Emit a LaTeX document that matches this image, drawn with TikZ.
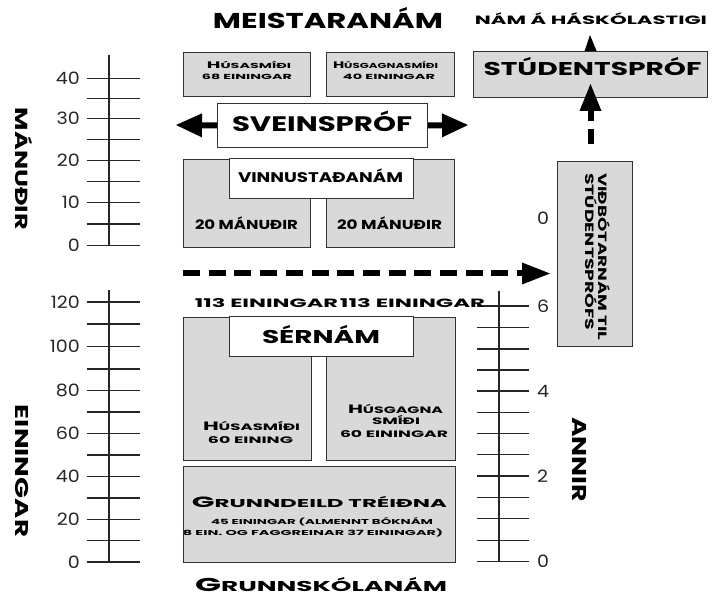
\documentclass[tikz,border=0pt]{standalone}
\usepackage{fontspec}
\usepackage{graphicx}
\usetikzlibrary{arrows.meta}
\setmainfont{Poppins}
\newfontfamily\numf{Poppins}[FakeStretch=1.12]
\newcommand\tx[3]{\resizebox{#1pt}{\height}{\fontsize{#2}{#2}\selectfont #3}}
\newcommand\cL[1]{\scalebox{1.3}{#1}}
\begin{document}
\begin{tikzpicture}[x=1pt,y=-1pt,
  gbox/.style={draw=black!80, line width=1pt, fill=gray!30, inner sep=0pt, anchor=north west},
  wbox/.style={draw=black!80, line width=1pt, fill=white, inner sep=0pt, anchor=north west},
  lbl/.style={inner sep=0pt, anchor=base, font=\bfseries},
  vlbl/.style={inner sep=0pt, anchor=base, rotate=-90, font=\bfseries},
  num/.style={inner sep=0pt, text=black!85, font=\numf\fontsize{17}{17}\selectfont},
  scl/.style={line width=1.2pt, black!85},
  fat/.style={line width=6pt, black},
]
\fill[white] (0,0) rectangle (714,601);
\useasboundingbox (0,0) rectangle (714,601);

% ---------- scales ----------
\draw[scl] (109,55) -- (109,245.7);
\foreach \y in {78.3,98.3,118.3,139.3,160.7,181.7,202.7,224,245.7}
  \draw[scl] (86.7,\y) -- (140,\y);
\foreach \l/\y in {40/78.3,30/118.3,20/160.7,10/202.7,0/245.7}
  \node[num, anchor=east] (nm\l) at (80,\y) {\l};

\draw[scl] (109,290) -- (109,562);
\foreach \y in {302,324,346.7,369,390.3,412,433.7,455,476.7,498,519.3,540.7,562}
  \draw[scl] (86.7,\y) -- (140,\y);
\foreach \l/\y in {120/302,100/346.7,80/390.3,60/433.7,40/476.7,20/519.3,0/562}
  \node[num, anchor=east] (ne\l) at (80,\y) {\l};

\draw[scl] (499,291) -- (499,561.7);
\foreach \y in {306,327.7,349,370,391,412.3,433.7,454.7,476,497.3,518.7,540.3,561.7}
  \draw[scl] (477,\y) -- (529,\y);
\foreach \l/\y in {6/306,4/391,2/476,0/561.7}
  \node[num, anchor=west] (na\l) at (537,\y) {\l};
\node[num, anchor=west] (nv0) at (537,218) {0};

% ---------- boxes ----------
\node[gbox, minimum width=127pt, minimum height=44pt] (b1) at (183,52) {};
\node[gbox, minimum width=128pt, minimum height=44pt] (b2) at (326,52) {};
\node[wbox, minimum width=210pt, minimum height=44pt] (sv) at (217,103) {};
\node[gbox, minimum width=127pt, minimum height=88pt] (v1) at (183,159) {};
\node[gbox, minimum width=128pt, minimum height=88pt] (v2) at (326,159) {};
\node[wbox, minimum width=184pt, minimum height=40pt] (vw) at (229,158) {};
\node[gbox, minimum width=128pt, minimum height=143pt] (s1) at (183,317) {};
\node[gbox, minimum width=129pt, minimum height=143pt] (s2) at (326,317) {};
\node[wbox, minimum width=184pt, minimum height=40pt] (sw) at (229,316) {};
\node[gbox, minimum width=272pt, minimum height=96pt] (g) at (183,466) {};
\node[gbox, minimum width=234pt, minimum height=46pt] (stud) at (473,51) {};
\node[gbox, minimum width=75pt, minimum height=185pt] (vid) at (557,161) {};

% ---------- texts ----------
\node[lbl] (tmeist) at (328,28.3) {\tx{230}{21.5}{MEISTARANÁM}};
\node[lbl] (thask) at (591,25) {\tx{232}{12}{NÁM Á HÁSKÓLASTIGI}};
\node[lbl] (tstud) at (592.5,76) {\tx{218}{18.5}{STÚDENTSPRÓF}};
\node[lbl] (tsvein) at (322,132) {\tx{180}{21}{SVEINSPRÓF}};
\node[lbl] (tb1a) at (249,68.3) {\tx{84}{7.3}{\cL{H}ÚSASMÍÐI}};
\node[lbl] (tb1b) at (247,79.3) {\tx{90}{7.3}{68 EININGAR}};
\node[lbl] (tb2a) at (385.5,68.3) {\tx{105}{7.3}{\cL{H}ÚSGAGNASMÍÐI}};
\node[lbl] (tb2b) at (389,79.3) {\tx{92}{7.3}{40 EININGAR}};
\node[lbl] (tvinn) at (320.5,183) {\tx{165}{14}{VINNUSTAÐANÁM}};
\node[lbl] (tm1) at (246.5,230) {\tx{103}{13}{20 MÁNUÐIR}};
\node[lbl] (tm2) at (389.5,230) {\tx{105}{13}{20 MÁNUÐIR}};
\node[lbl] (t113a) at (266.5,308) {\tx{143}{12}{113 EININGAR}};
\node[lbl] (t113b) at (412.5,308) {\tx{145}{12}{113 EININGAR}};
\node[lbl] (tsern) at (321,343) {\tx{118}{18.5}{SÉRNÁM}};
\node[lbl] (ts1a) at (251.5,430) {\tx{97}{9.3}{\cL{H}ÚSASMÍÐI}};
\node[lbl] (ts1b) at (250.5,443.3) {\tx{85}{9.3}{60 EINING}};
\node[lbl] (ts2a) at (395.5,413.3) {\tx{95}{9.3}{\cL{H}ÚSGAGNA}};
\node[lbl] (ts2b) at (396,424.5) {\tx{48}{9.3}{SMÍÐI}};
\node[lbl] (ts2c) at (394,437.3) {\tx{108}{9.3}{60 EININGAR}};
\node[lbl] (tg1) at (319.5,507) {\tx{255}{11.4}{\cL{G}RUNNDEILD TRÉIÐNA}};
\node[lbl] (tg2) at (322,524.3) {\tx{222}{7.1}{45 EININGAR (ALMENNT BÓKNÁM}};
\node[lbl] (tg3) at (313,535) {\tx{260}{7.1}{8 EIN. OG FAGGREINAR 37 EININGAR)}};
\node[lbl] (tgrunn) at (321,591) {\tx{252}{14.3}{\cL{G}RUNNSKÓLANÁM}};

\node[vlbl] (tman) at (15,169) {\tx{122}{17.5}{MÁNUÐIR}};
\node[vlbl] (tein) at (15,471) {\tx{132}{18.5}{EININGAR}};
\node[vlbl] (tann) at (572,459.5) {\tx{85}{20}{ANNIR}};
\node[vlbl, anchor=base west] (tvid1) at (598.5,173) {\tx{167}{12}{VIÐBÓTARNÁM TIL}};
\node[vlbl, anchor=base west] (tvid2) at (585,173) {\tx{157}{12}{STÚDENTSPRÓFS}};

% ---------- arrows ----------
\coordinate (svl) at (176,125);
\coordinate (svr) at (468,125);
\draw[fat, -{Triangle[length=26pt,width=24pt,line width=0pt]}] (sv.west) -- (svl);
\draw[fat, -{Triangle[length=26pt,width=24pt,line width=0pt]}] (sv.east) -- (svr);

\coordinate (hd) at (183,273.5);
\draw[fat, dash pattern=on 17pt off 8.7pt, shorten >=7pt,
  -{Triangle[length=28pt,width=22pt,line width=0pt]}] (hd) -- (hd -| vid.west);

\draw[fat, dash pattern=on 15pt off 8pt, dash phase=15pt, shorten <=9pt,
  -{Triangle[length=27pt,width=22pt,line width=0pt]}] (vid.north -| stud.south) -- ([yshift=14pt]stud.south);

\coordinate (hsk) at (590,35);
\draw[line width=1pt, -{Triangle[length=16pt,width=12pt,line width=0pt]}] (stud.north) -- (hsk);
\end{tikzpicture}
\end{document}
